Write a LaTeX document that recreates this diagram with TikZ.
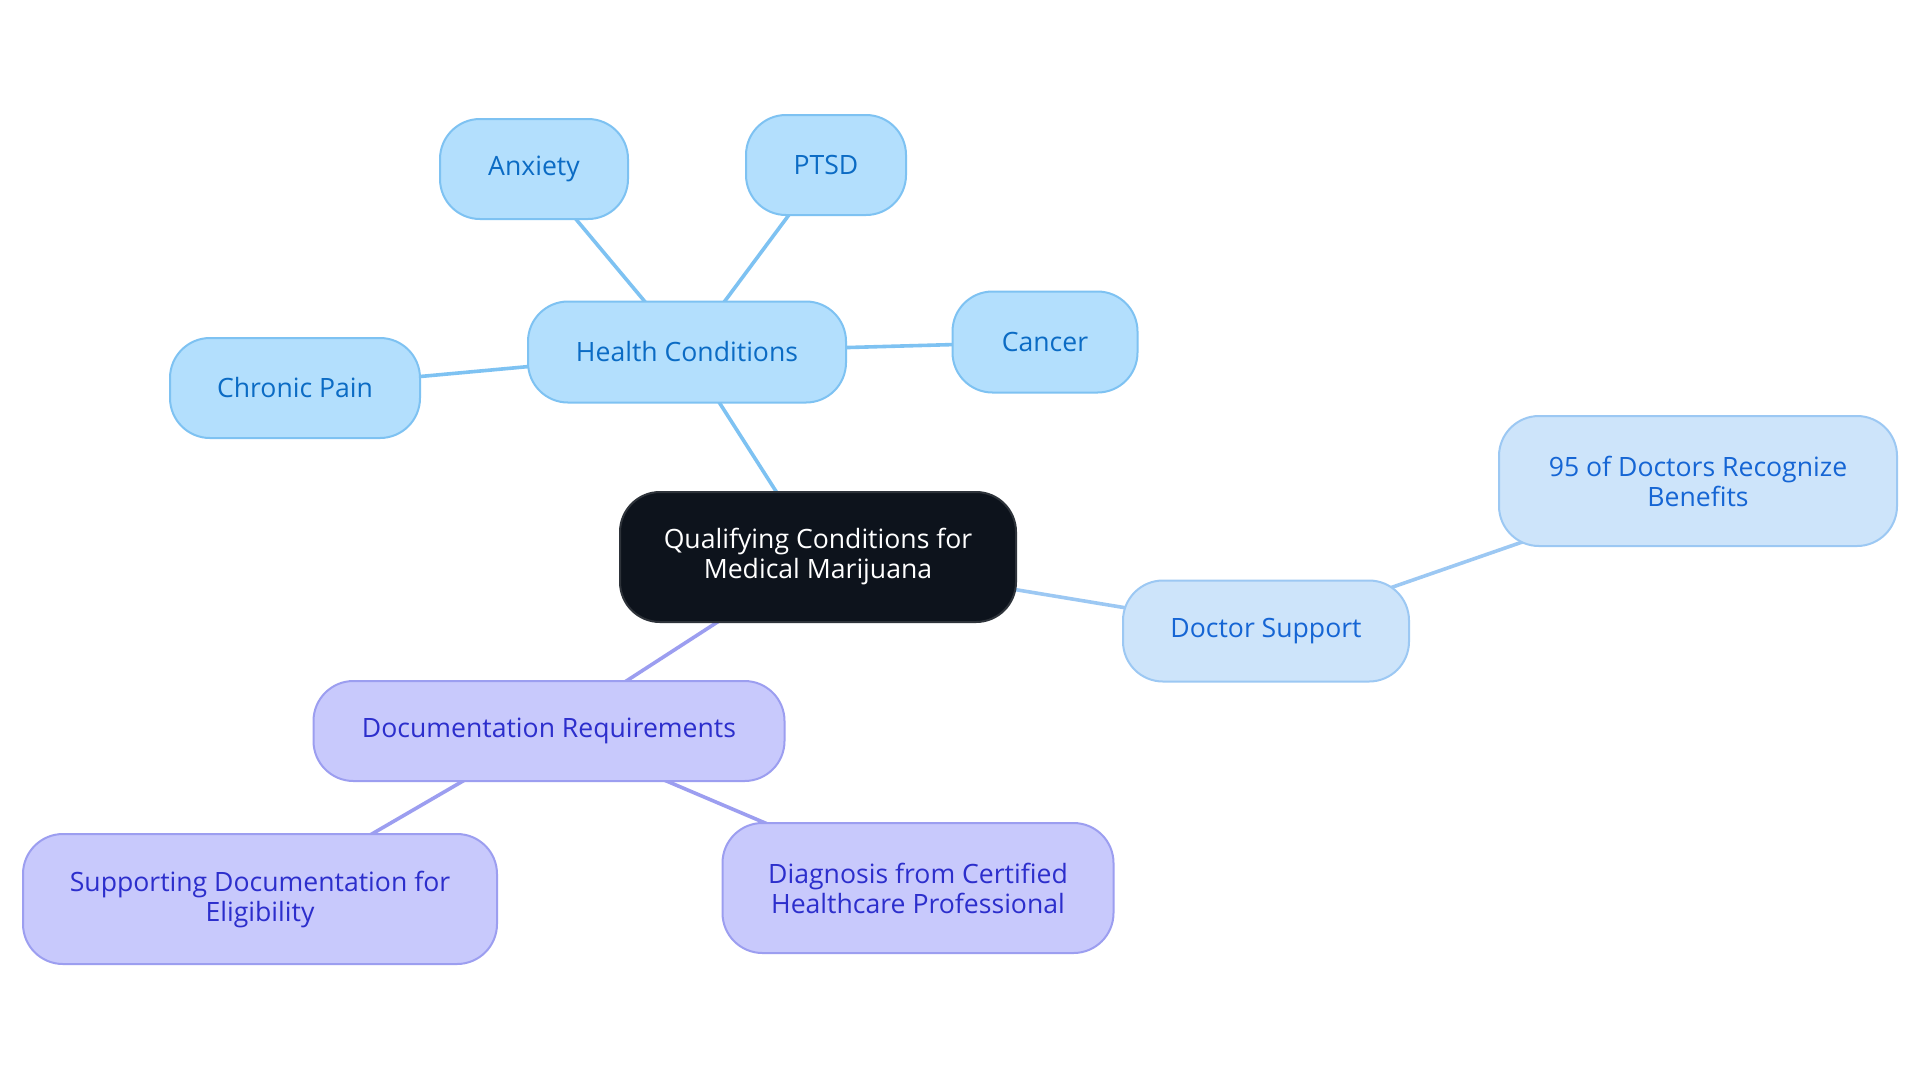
\documentclass[tikz,border=0pt]{standalone}
\usepackage{fontspec}
\setmainfont{Open Sans}
\definecolor{hcfill}{HTML}{B3DFFD}
\definecolor{hcdraw}{HTML}{7EC2F2}
\definecolor{hctext}{HTML}{0B6BC4}
\definecolor{dsfill}{HTML}{CDE4FA}
\definecolor{dsdraw}{HTML}{9CC8F3}
\definecolor{dstext}{HTML}{1565D4}
\definecolor{drfill}{HTML}{C8C9FC}
\definecolor{drdraw}{HTML}{9C9EF0}
\definecolor{drtext}{HTML}{2C2ECC}
\definecolor{rootfill}{HTML}{0D131C}
\definecolor{rootdraw}{HTML}{2E333A}
\tikzset{
  box/.style={rectangle, rounded corners=20pt, line width=1pt, inner sep=0pt, align=center,
    font=\fontsize{13.3}{15}\selectfont},
  hc/.style={box, fill=hcfill, draw=hcdraw, text=hctext},
  ds/.style={box, fill=dsfill, draw=dsdraw, text=dstext},
  dr/.style={box, fill=drfill, draw=drdraw, text=drtext},
  rootbox/.style={box, fill=rootfill, draw=rootdraw, text=white},
  hcl/.style={draw=hcdraw, line width=1.8pt},
  dsl/.style={draw=dsdraw, line width=1.8pt},
  drl/.style={draw=drdraw, line width=1.8pt},
}
\begin{document}
\begin{tikzpicture}[x=0.5pt,y=-0.5pt]
\useasboundingbox[fill=white] (0,0) rectangle (1920,1083);
\coordinate (cRoot) at (818,557);
\coordinate (cHealth) at (687,352);
\coordinate (cAnx) at (534,169);
\coordinate (cPTSD) at (826,165);
\coordinate (cCancer) at (1045,342);
\coordinate (cChronic) at (295,388);
\coordinate (cDoc) at (1266,631);
\coordinate (cNinety) at (1698,481);
\coordinate (cReq) at (549,731);
\coordinate (cSupp) at (260,899);
\coordinate (cDiag) at (918,888);

\draw[hcl] (cRoot) -- (cHealth);
\draw[hcl] (cHealth) -- (cAnx);
\draw[hcl] (cHealth) -- (cPTSD);
\draw[hcl] (cHealth) -- (cCancer);
\draw[hcl] (cHealth) -- (cChronic);
\draw[dsl] (cRoot) -- (cDoc);
\draw[dsl] (cDoc) -- (cNinety);
\draw[drl] (cRoot) -- (cReq);
\draw[drl] (cReq) -- (cSupp);
\draw[drl] (cReq) -- (cDiag);

\node[rootbox, minimum width=198pt, minimum height=65pt] (root) at (cRoot) {Qualifying Conditions for\\Medical Marijuana};
\node[hc, minimum width=159pt, minimum height=50.5pt] (health) at (cHealth) {Health Conditions};
\node[hc, minimum width=94pt, minimum height=50pt] (anx) at (cAnx) {Anxiety};
\node[hc, minimum width=80pt, minimum height=50pt] (ptsd) at (cPTSD) {PTSD};
\node[hc, minimum width=92.5pt, minimum height=50.5pt] (cancer) at (cCancer) {Cancer};
\node[hc, minimum width=125pt, minimum height=50pt] (chronic) at (cChronic) {Chronic Pain};
\node[ds, minimum width=143pt, minimum height=50.5pt] (doc) at (cDoc) {Doctor Support};
\node[ds, minimum width=199pt, minimum height=65pt] (ninety) at (cNinety) {95 of Doctors Recognize\\Benefits};
\node[dr, minimum width=235.5pt, minimum height=50pt] (req) at (cReq) {Documentation Requirements};
\node[dr, minimum width=237pt, minimum height=65pt] (supp) at (cSupp) {Supporting Documentation for\\Eligibility};
\node[dr, minimum width=195.5pt, minimum height=65pt] (diag) at (cDiag) {Diagnosis from Certified\\Healthcare Professional};
\end{tikzpicture}
\end{document}
